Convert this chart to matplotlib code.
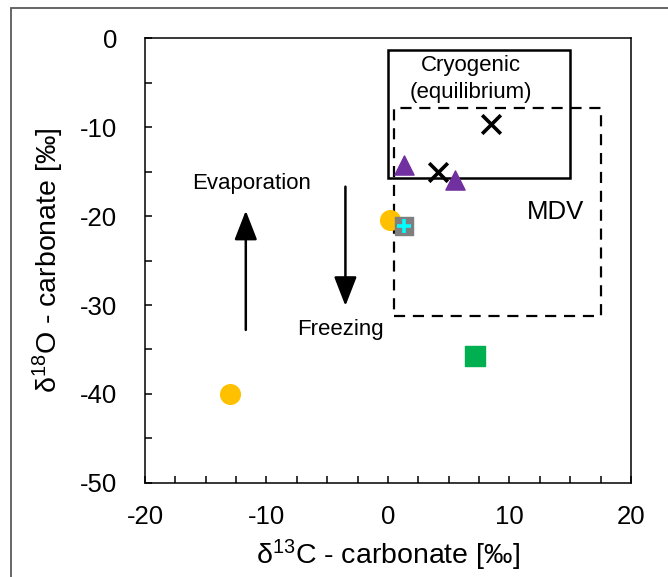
import matplotlib
matplotlib.use('Agg')
import matplotlib.pyplot as plt
from matplotlib.patches import Rectangle, FancyArrowPatch

plt.rcParams['font.family'] = ['Liberation Sans', 'DejaVu Sans']
plt.rcParams['mathtext.default'] = 'regular'
plt.rcParams['axes.unicode_minus'] = False

# carbonate isotope values (d13C, d18O)
circle_x = [-13.0, 0.2]
circle_y = [-40.0, -20.5]
triangle_x = [1.3, 5.5]
triangle_y = [-14.3, -16.0]
cross_x = [8.5, 4.1]
cross_y = [-9.7, -15.1]
green_x = [7.2]
green_y = [-35.7]
gray_x = [1.3]
gray_y = [-21.1]

# field boxes: (xmin, xmax, ymin, ymax)
cryo_box = (0.0, 15.0, -15.7, -1.3)
mdv_box = (0.5, 17.5, -31.2, -7.9)

fig = plt.figure(figsize=(6.68, 5.77), dpi=100)
ax = fig.add_axes([0.217, 0.163, 0.7275, 0.771])

# outer frame (runs off the right and bottom edges)
fig.patches.append(Rectangle((11 / 668, -0.2), 1.2, 0.2 + 569 / 577,
                             transform=fig.transFigure, fill=False,
                             edgecolor='#5a5a5a', lw=1.3))

ax.set_xlim(-20, 20)
ax.set_ylim(-50, 0)
ax.set_xticks([-20, -10, 0, 10, 20])
ax.set_xticks([-17.5, -15, -12.5, -7.5, -5, -2.5, 2.5, 5, 7.5, 12.5, 15, 17.5], minor=True)
ax.set_yticks([0, -10, -20, -30, -40, -50])
ax.set_yticks([-5, -15, -25, -35, -45], minor=True)
ax.tick_params(which='both', direction='in', length=5, width=1.1, labelsize=18.5)
ax.tick_params(axis='x', which='both', pad=16)
ax.tick_params(axis='y', which='both', pad=20)
for s in ax.spines.values():
    s.set_linewidth(1.1)

ax.set_xlabel('δ$^{13}$C - carbonate [‰]', fontsize=20.5, labelpad=6)
ax.set_ylabel('δ$^{18}$O - carbonate [‰]', fontsize=20.5, labelpad=10)

# boxes
x0, x1, y0, y1 = cryo_box
ax.add_patch(Rectangle((x0, y0), x1 - x0, y1 - y0, fill=False, lw=1.8, ec='black', zorder=2))
x0, x1, y0, y1 = mdv_box
ax.add_patch(Rectangle((x0, y0), x1 - x0, y1 - y0, fill=False, lw=1.6, ec='black',
                       ls=(0, (5, 3.5)), zorder=2))

# markers
ax.scatter(circle_x, circle_y, s=200, marker='o', color='#FFC000', zorder=3)
ax.scatter(triangle_x, triangle_y, s=190, marker='^', color='#7030A0', zorder=3)
ax.scatter(cross_x, cross_y, s=180, marker='x', color='black', linewidths=2.6, zorder=4)
ax.scatter(green_x, green_y, s=200, marker='s', color='#00B050', zorder=3)
ax.scatter(gray_x, gray_y, s=170, marker='s', color='#7F7F7F', zorder=4)
ax.scatter(gray_x, gray_y, s=110, marker='+', color='#00FFFF', linewidths=2.6, zorder=5)

# process arrows
arrow_style = '-|>,head_length=18,head_width=7'
ax.add_patch(FancyArrowPatch((-11.7, -32.8), (-11.7, -19.4), arrowstyle=arrow_style,
                             lw=1.8, color='black', shrinkA=0, shrinkB=0))
ax.add_patch(FancyArrowPatch((-3.5, -16.7), (-3.5, -30.1), arrowstyle=arrow_style,
                             lw=1.8, color='black', shrinkA=0, shrinkB=0))

ax.text(-11.2, -16.3, 'Evaporation', fontsize=16, ha='center', va='center')
ax.text(-3.9, -32.7, 'Freezing', fontsize=16, ha='center', va='center')
ax.text(6.8, -4.6, 'Cryogenic\n(equilibrium)', fontsize=16, ha='center', va='center',
        linespacing=1.4)
ax.text(13.8, -19.5, 'MDV', fontsize=18.5, ha='center', va='center')

fig.savefig('out.png', dpi=100)
